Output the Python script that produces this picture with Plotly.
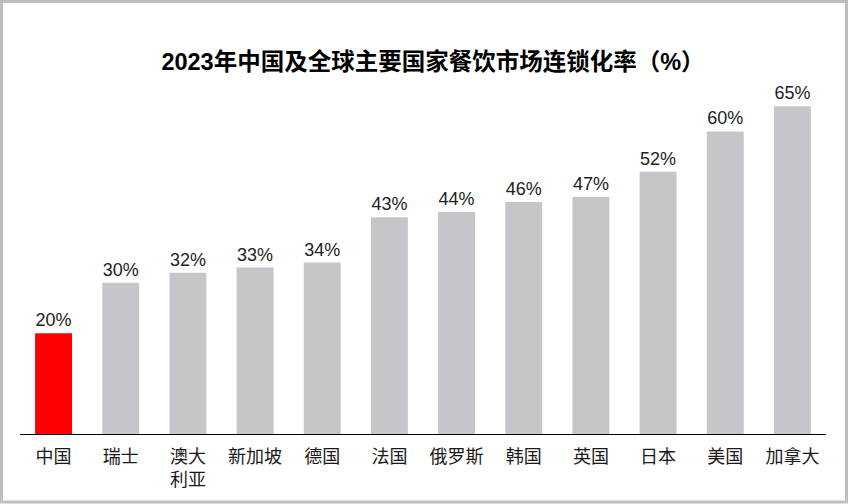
import plotly.graph_objects as go

categories = ["中国", "瑞士", "澳大<br>利亚", "新加坡", "德国", "法国", "俄罗斯", "韩国", "英国", "日本", "美国", "加拿大"]
values = [20, 30, 32, 33, 34, 43, 44, 46, 47, 52, 60, 65]
colors = ["#FF0000"] + ["#C4C6C9"] * 11
title = "2023年中国及全球主要国家餐饮市场连锁化率（%）"

W, H = 850, 504
ml, mr, mt, mb = 20, 24, 81, 70

fig = go.Figure(go.Bar(
    x=categories, y=values, marker=dict(color=colors, line=dict(width=0)),
    width=0.55,
    text=[f"{v}%" for v in values], textposition="outside", cliponaxis=False,
    textfont=dict(family="Liberation Sans, Arial", size=18, color="#222222"),
))

pw = W - ml - mr
ph = H - mt - mb
def px(x): return (x - ml) / pw
def py(y): return (H - mb - y) / ph

fig.add_shape(type="rect", xref="paper", yref="paper",
              x0=px(1.5), x1=px(846.5), y0=py(502), y1=py(1.5),
              line=dict(color="#BFBFBF", width=3), fillcolor="rgba(0,0,0,0)", layer="below")

fig.update_layout(
    width=W, height=H, margin=dict(l=ml, r=mr, t=mt, b=mb),
    plot_bgcolor="white", paper_bgcolor="white",
    title=dict(text=f"<b>{title}</b>", x=(433) / W, xanchor="center", y=1 - 62 / H, yanchor="middle",
               font=dict(family="Liberation Sans, Noto Sans CJK SC", size=23.5, color="#000000")),
    showlegend=False,
    xaxis=dict(showline=True, linecolor="#000000", linewidth=1, ticks="", showgrid=False,
               ticklabelstandoff=6,
               tickfont=dict(family="Noto Sans CJK SC", size=18, color="#1a1a1a")),
    yaxis=dict(range=[0, 70], visible=False, showgrid=False),
)

fig.write_html("out.html")
